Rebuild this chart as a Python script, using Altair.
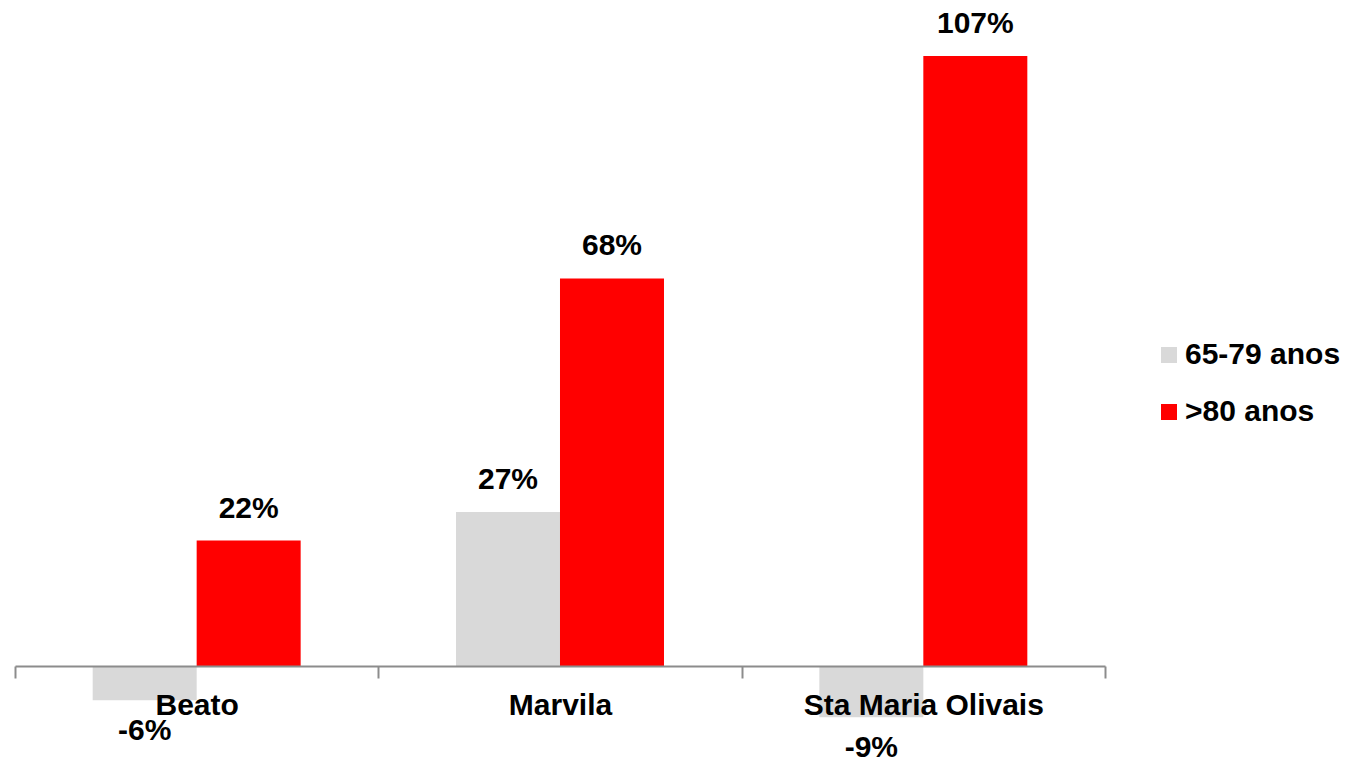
import altair as alt
import pandas as pd

categories = ["Beato", "Marvila", "Sta Maria Olivais"]
series = ["65-79 anos", ">80 anos"]
values_65_79 = [-6, 27, -9]
values_80 = [22, 68, 107]
colors = ["#d9d9d9", "#ff0000"]

rows = []
for i, c in enumerate(categories):
    rows.append({"cat": c, "serie": series[0], "value": values_65_79[i]})
    rows.append({"cat": c, "serie": series[1], "value": values_80[i]})
df = pd.DataFrame(rows)

FONT = "Liberation Sans"

x = alt.X(
    "cat:N",
    sort=categories,
    title=None,
    scale=alt.Scale(paddingInner=0, paddingOuter=0),
    axis=alt.Axis(
        orient="bottom",
        offset=-92,
        domainColor="#8c8c8c",
        domainWidth=2,
        tickColor="#8c8c8c",
        tickWidth=2,
        tickSize=12,
        tickBand="extent",
        labelFont=FONT,
        labelFontSize=30,
        labelFontWeight="bold",
        labelColor="#000000",
        labelPadding=12,
        labelAngle=0,
        labelLimit=1000,
        grid=False,
        zindex=1,
    ),
)
xoff = alt.XOffset("serie:N", sort=series, scale=alt.Scale(paddingOuter=0.747, paddingInner=0))
y = alt.Y("value:Q", axis=None, scale=alt.Scale(domain=[-16.14, 115.44], nice=False, zero=False))

base = alt.Chart(df)

bars = base.mark_bar(size=104).encode(
    x=x,
    xOffset=xoff,
    y=y,
    y2=alt.datum(0),
    color=alt.Color(
        "serie:N",
        sort=series,
        scale=alt.Scale(domain=series, range=colors),
        legend=alt.Legend(
            title=None,
            orient="none",
            legendX=1139,
            legendY=332,
            padding=0,
            symbolType="square",
            symbolSize=256,
            symbolStrokeWidth=0,
            labelFont=FONT,
            labelFontSize=30,
            labelFontWeight="bold",
            labelColor="#000000",
            labelOffset=1,
            labelLimit=1000,
            rowPadding=27,
        ),
    ),
)

label_base = base.transform_calculate(label="toString(datum.value) + '%'")

pos_text = label_base.transform_filter("datum.value >= 0").mark_text(
    font=FONT, fontSize=30, fontWeight="bold", color="#000000",
    baseline="alphabetic", align="center", dy=-23,
).encode(x=x, xOffset=xoff, y=y, text="label:N")

neg_text = label_base.transform_filter("datum.value < 0").mark_text(
    font=FONT, fontSize=30, fontWeight="bold", color="#000000",
    baseline="alphabetic", align="center", dy=40,
).encode(x=x, xOffset=xoff, y=y, text="label:N")

chart = (
    alt.layer(bars, pos_text, neg_text)
    .properties(
        width=1090,
        height=750,
        padding={"left": 7, "top": 0, "right": 240, "bottom": 0},
        autosize=alt.AutoSizeParams(type="none"),
        background="#ffffff",
    )
    .configure_view(stroke=None)
)

chart.save("out.html", embed_options={"renderer": "svg", "actions": False})
